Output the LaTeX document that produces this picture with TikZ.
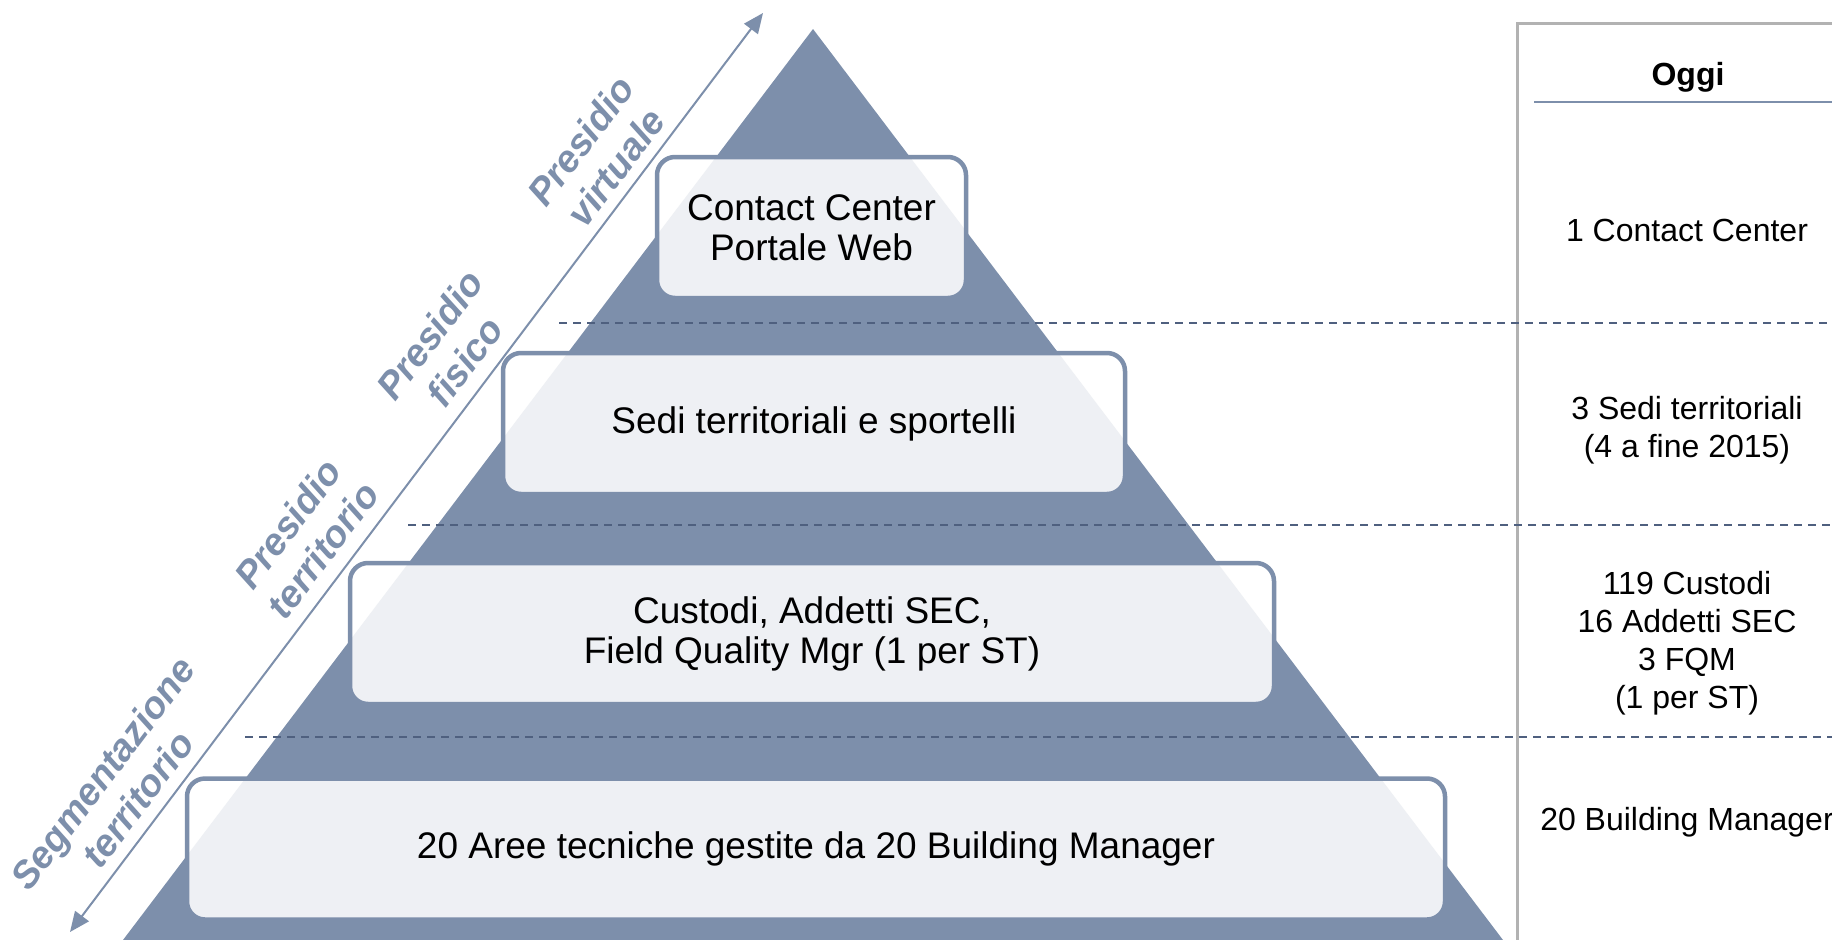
\documentclass[tikz,border=0pt]{standalone}
\usepackage{fontspec}
\setmainfont{Liberation Sans}
\usetikzlibrary{arrows.meta}

\definecolor{pyramid}{RGB}{125,143,171}
\definecolor{levelline}{RGB}{79,96,127}
\definecolor{tablegray}{RGB}{178,178,178}

\tikzset{
  layerbox/.style={draw=pyramid, line width=4.5pt, rounded corners=18pt, fill=white, fill opacity=0.87, text opacity=1,
    align=center, minimum height=141pt, inner sep=0pt, font=\fontsize{37}{40}\selectfont},
  countlabel/.style={align=center, inner sep=0pt, font=\fontsize{32}{38}\selectfont},
  sidelabel/.style={text=pyramid, align=center, rotate=53, inner sep=0pt, font=\fontsize{38}{44}\selectfont\bfseries\itshape},
  levelsep/.style={levelline, line width=2pt, dash pattern=on 8pt off 6pt},
}

\begin{document}
\begin{tikzpicture}[x=1pt,y=-1pt]
  \useasboundingbox (0,0) rectangle (1832,940);

  % pyramid
  \fill[pyramid] (813,29) -- (1503,940) -- (123,940) -- cycle;

  % table on the right
  \draw[tablegray, line width=3pt] (1517,940) -- (1517,23) -- (1832,23);
  \draw[pyramid, line width=2.5pt] (1534,102) -- (1832,102);

  % level separators
  \draw[levelsep] (559,323) -- (1832,323);
  \draw[levelsep] (408,525) -- (1832,525);
  \draw[levelsep] (245,737) -- (1832,737);

  % layers
  \node[layerbox, minimum width=309pt] (virtual) at (811.5,227.5) {Contact Center\\Portale Web};
  \node[layerbox, minimum width=622pt] (offices) at (814,423.5) {Sedi territoriali e sportelli};
  \node[layerbox, minimum width=924pt] (staff) at (812,633.5) {Custodi, Addetti SEC,\\Field Quality Mgr (1 per ST)};
  \node[layerbox, minimum width=1258pt] (areas) at (816,849) {20 Aree tecniche gestite da 20 Building Manager};

  % side arrow and labels
  \coordinate (arrowtop) at (763,13);
  \coordinate (arrowbottom) at (70,932);
  \draw[pyramid, line width=2pt, {Triangle[length=20pt,width=17pt]}-{Triangle[length=20pt,width=17pt]}] (arrowbottom) -- (arrowtop);

  \node[sidelabel] (lblvirtual) at (598,154) {Presidio\\virtuale};
  \node[sidelabel] (lblphysical) at (447,348) {Presidio\\fisico};
  \node[sidelabel] (lblterritory) at (305,537) {Presidio\\territorio};
  \node[sidelabel] (lblsegment) at (120,786) {Segmentazione\\territorio};

  % today column
  \node[countlabel, font=\fontsize{32}{38}\selectfont\bfseries, anchor=base] (today) at (1688,85) {Oggi};
  \node[countlabel, anchor=base] (cntvirtual) at (1687,241) {1 Contact Center};
  \node[countlabel] (cntoffices) at (1687,430) {3 Sedi territoriali\\(4 a fine 2015)};
  \node[countlabel] (cntstaff) at (1687,643) {119 Custodi\\16 Addetti SEC\\3 FQM\\(1 per ST)};
  \node[countlabel, anchor=base] (cntareas) at (1687,830) {20 Building Manager};
\end{tikzpicture}
\end{document}
